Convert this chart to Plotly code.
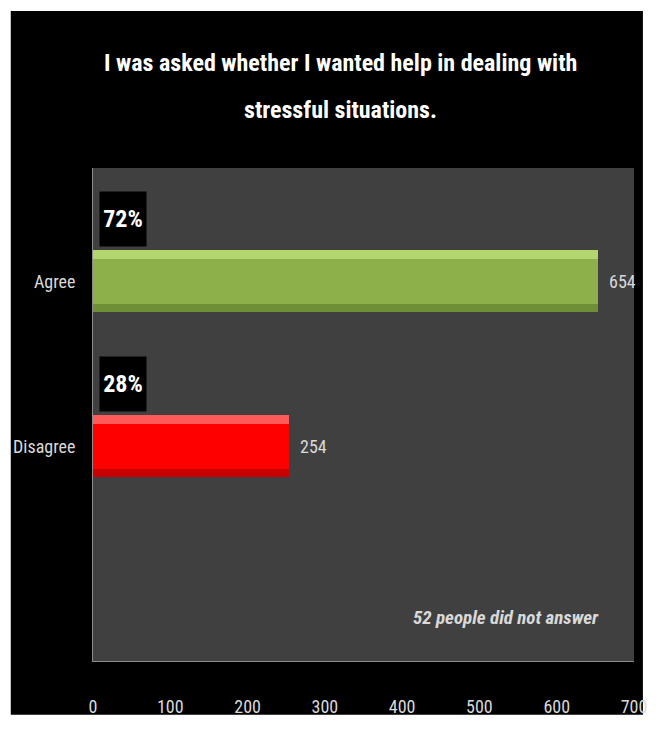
import plotly.graph_objects as go

categories = ["Agree", "Disagree"]
counts = [654, 254]
percents = ["72%", "28%"]
bar_colors = ["#8db04a", "#fe0000"]
light_colors = ["#b3d66e", "#ff5a5a"]
dark_colors = ["#6f8f36", "#c80000"]
x_ticks = [0, 100, 200, 300, 400, 500, 600, 700]
title_lines = ["I was asked whether I wanted help in dealing with", "stressful situations."]
note = "52 people did not answer"

FONT = "Roboto Condensed, Liberation Sans Narrow, Roboto, sans-serif"
W, H = 659, 729
L, R, T, B = 93, 20, 168, 65
pw, ph = W - L - R, H - T - B

pos = list(range(len(categories)))
fig = go.Figure()
fig.add_trace(go.Bar(y=pos, x=counts, orientation="h", width=0.375,
                     marker=dict(color=bar_colors, line=dict(width=0)),
                     hoverinfo="skip", showlegend=False))
fig.add_trace(go.Bar(y=pos, x=counts, orientation="h", width=0.05, offset=-0.1875,
                     marker=dict(color=light_colors, line=dict(width=0)),
                     hoverinfo="skip", showlegend=False))
fig.add_trace(go.Bar(y=pos, x=counts, orientation="h", width=0.05, offset=0.1375,
                     marker=dict(color=dark_colors, line=dict(width=0)),
                     hoverinfo="skip", showlegend=False))

def px2paper_x(p):
    return (p - L) / pw

def px2paper_y(p):
    return (H - B - p) / ph

shapes = [
    dict(type="rect", xref="paper", yref="paper", layer="below",
         x0=px2paper_x(10), x1=px2paper_x(648), y0=px2paper_y(718), y1=px2paper_y(10),
         fillcolor="black", line=dict(width=0)),
    dict(type="rect", xref="paper", yref="paper", layer="below",
         x0=0, x1=1, y0=0, y1=1, fillcolor="#404040", line=dict(width=0)),
]

annotations = []
for i, t in enumerate(title_lines):
    annotations.append(dict(xref="paper", yref="paper", x=px2paper_x(343),
                            y=px2paper_y(62 + 48 * i), text="<b>%s</b>" % t,
                            showarrow=False, xanchor="center", yanchor="middle",
                            font=dict(family=FONT, size=24, color="white")))
for i, (c, p) in enumerate(zip(counts, percents)):
    annotations.append(dict(x=0, y=i - 0.375, xref="x", yref="y", text="<b>%s</b>" % p,
                            showarrow=False, xanchor="left", yanchor="middle", xshift=6,
                            width=44, height=52, bgcolor="black",
                            font=dict(family=FONT, size=24, color="white")))
    annotations.append(dict(x=c, y=i, xref="x", yref="y", text=str(c),
                            showarrow=False, xanchor="left", yanchor="middle", xshift=9,
                            font=dict(family=FONT, size=18, color="#d9d9d9")))
annotations.append(dict(xref="paper", yref="paper", x=px2paper_x(510), y=px2paper_y(620),
                        text="<b><i>%s</i></b>" % note, showarrow=False,
                        xanchor="center", yanchor="middle",
                        font=dict(family=FONT, size=19, color="#d9d9d9")))

fig.update_layout(
    width=W, height=H,
    margin=dict(l=L, r=R, t=T, b=B, pad=0),
    paper_bgcolor="white", plot_bgcolor="#404040",
    shapes=shapes, annotations=annotations,
    bargap=0, barmode="overlay",
    xaxis=dict(range=[0, 700], tickvals=x_ticks, showgrid=False, zeroline=False,
               showline=True, linecolor="#8c8c8c", linewidth=1, ticks="",
               ticklabelstandoff=29,
               tickfont=dict(family=FONT, size=18, color="#d9d9d9"), fixedrange=True),
    yaxis=dict(range=[2.301, -0.687], tickvals=pos, ticktext=categories, showgrid=False,
               zeroline=False, showline=True, linecolor="#8c8c8c", linewidth=1, ticks="",
               ticklabelstandoff=13,
               tickfont=dict(family=FONT, size=18, color="#d9d9d9"), fixedrange=True),
)

fig.write_html("out.html", config=dict(displayModeBar=False),
               post_script="document.body.style.margin='0';document.body.style.overflow='hidden';")
